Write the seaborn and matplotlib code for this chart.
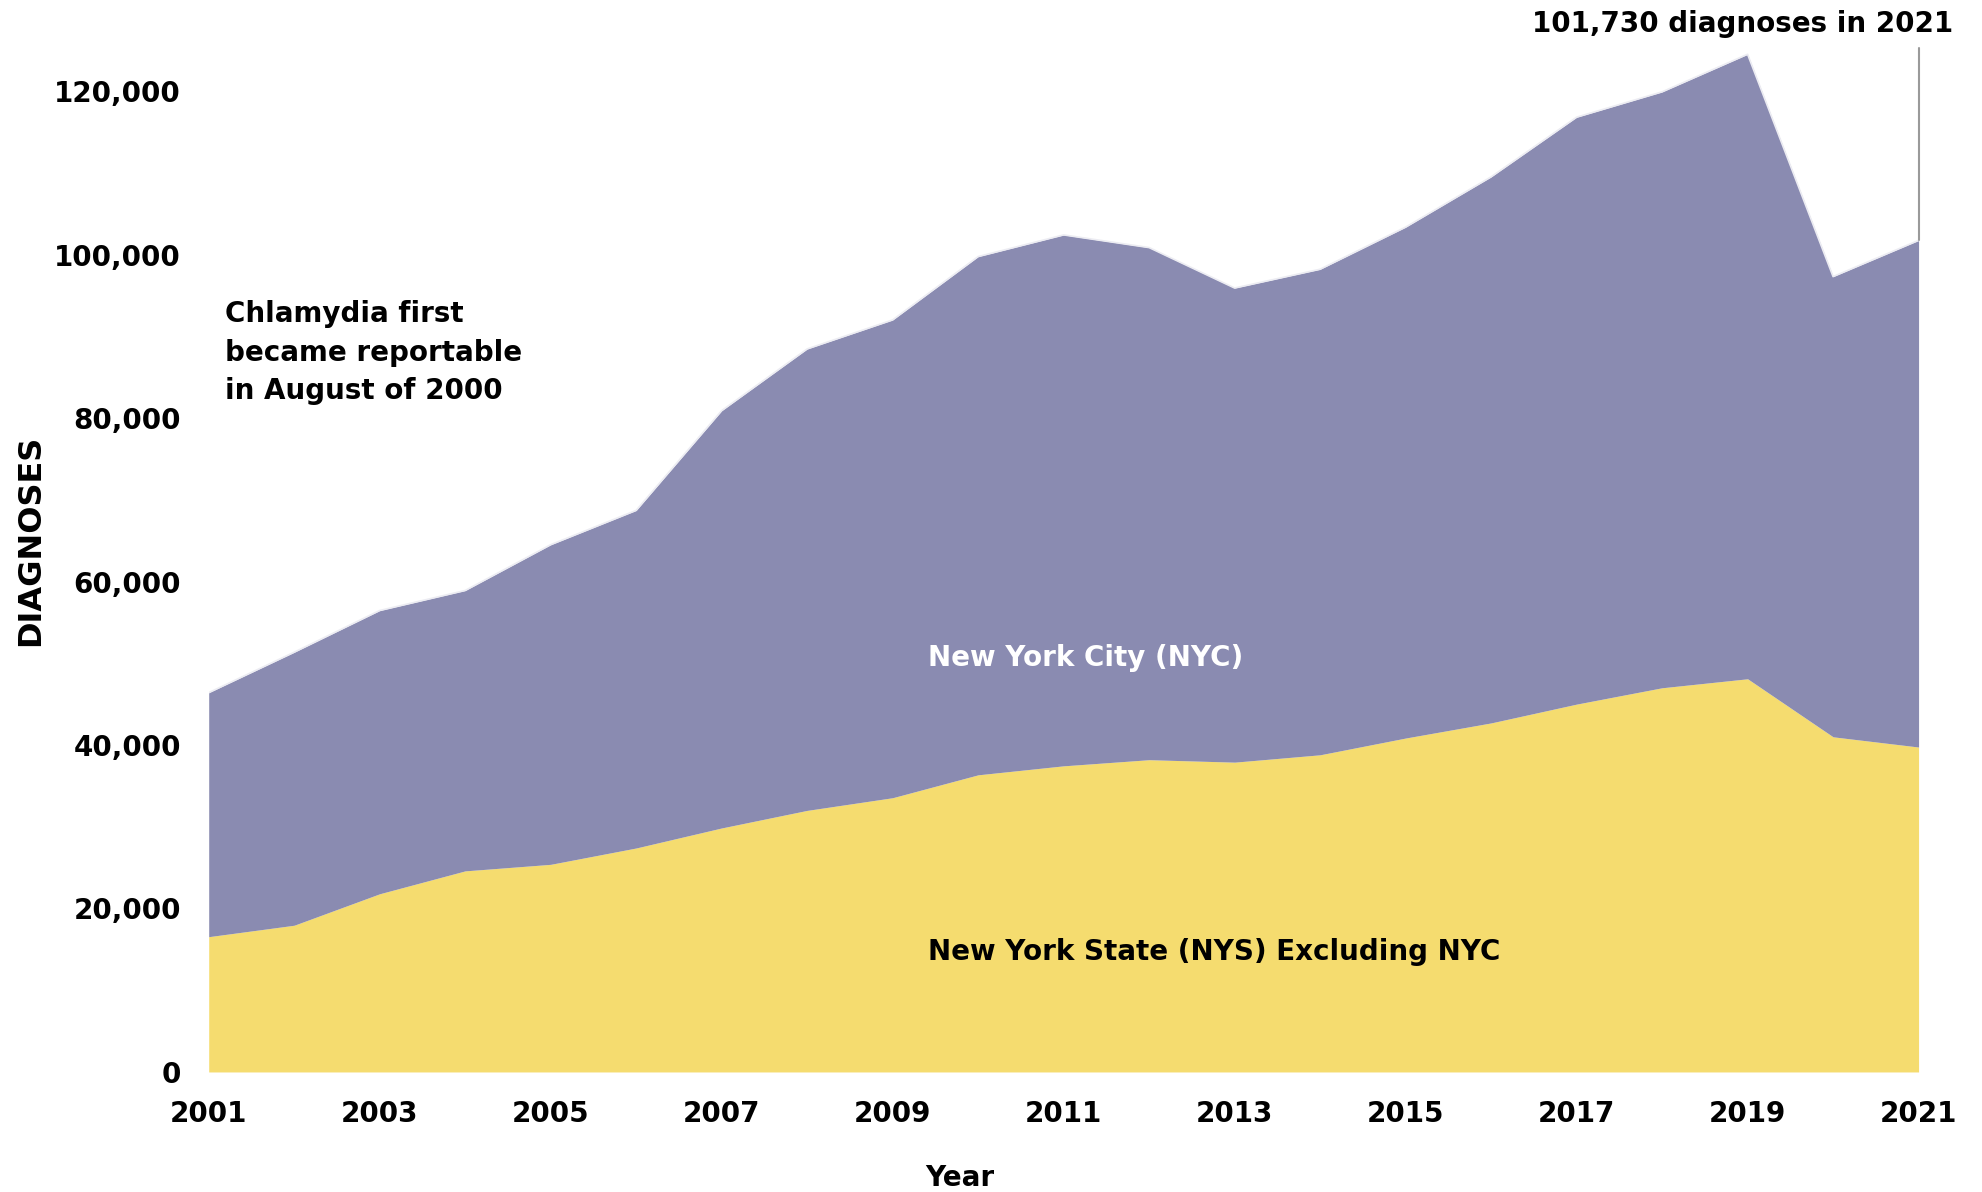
import numpy as np
import matplotlib
matplotlib.use("Agg")
import matplotlib.pyplot as plt
import seaborn as sns
import pandas as pd

# Valeurs
years = list(range(2001, 2022))
nys_excl_nyc = [16550, 17950, 21800, 24600, 25400, 27400, 29850, 32000, 33550,
                36350, 37450, 38200, 37900, 38800, 40850, 42700, 45000, 47000,
                48100, 41000, 39750]
total = [46400, 51350, 56450, 58900, 64500, 68700, 80900, 88450, 92000,
         99750, 102400, 100850, 95900, 98200, 103350, 109500, 116800, 119900,
         124500, 97300, 101730]
nyc = [t - s for t, s in zip(total, nys_excl_nyc)]

df = pd.DataFrame({"Year": years, "NYS": nys_excl_nyc, "NYC": nyc, "Total": total})

sns.set_theme(style="white")
plt.rcParams['font.family'] = ['DejaVu Sans']
plt.rcParams['font.weight'] = 'bold'

fig = plt.figure(figsize=(19.82, 11.92), dpi=100)
ax = fig.add_axes([0.1053, 0.1007, 0.8627, 0.8915])

yellow = "#F5DC6F"
purple = "#8A8BB1"
ax.stackplot(df["Year"], df["NYS"], df["NYC"], colors=[yellow, purple], linewidth=0)
sns.lineplot(data=df, x="Year", y="Total", ax=ax, color="#ececf2", linewidth=1.2)

ax.set_xlim(2001, 2021)
ax.set_ylim(0, 130000)
ax.set_xticks(range(2001, 2022, 2))
ax.set_yticks(range(0, 120001, 20000))
ax.yaxis.set_major_formatter(matplotlib.ticker.FuncFormatter(lambda v, p: f"{int(v):,}"))
ax.tick_params(axis="both", length=0, labelsize=20, pad=20, labelcolor="black")
for lab in ax.get_xticklabels() + ax.get_yticklabels():
    lab.set_fontweight("bold")
for s in ax.spines.values():
    s.set_visible(False)
ax.grid(False)

ax.set_xlabel("Year", fontsize=20, fontweight="bold", color="black")
ax.xaxis.set_label_coords(0.4395, -0.1)
ax.xaxis.label.set_verticalalignment("center")
ax.set_ylabel("DIAGNOSES", fontsize=23, fontweight="bold", color="black")
ax.yaxis.set_label_coords(-0.1043, 0.5)
ax.yaxis.label.set_verticalalignment("center")

# ligne de repère 2021
ax.plot([2021, 2021], [total[-1], 125300], color="#9a9a9a", linewidth=1.5, clip_on=False)
ax.text(2021.4, 128200, "101,730 diagnoses in 2021", ha="right", va="center",
        fontsize=20, fontweight="bold", color="black", clip_on=False)

ax.text(2001.19, 88000, "Chlamydia first\nbecame reportable\nin August of 2000",
        ha="left", va="center", fontsize=20, fontweight="bold", color="black",
        linespacing=1.47)
ax.text(2009.41, 50700, "New York City (NYC)", ha="left", va="center",
        fontsize=20, fontweight="bold", color="white")
ax.text(2009.41, 14700, "New York State (NYS) Excluding NYC", ha="left", va="center",
        fontsize=20, fontweight="bold", color="black")

fig.savefig("out.png", dpi=100)
